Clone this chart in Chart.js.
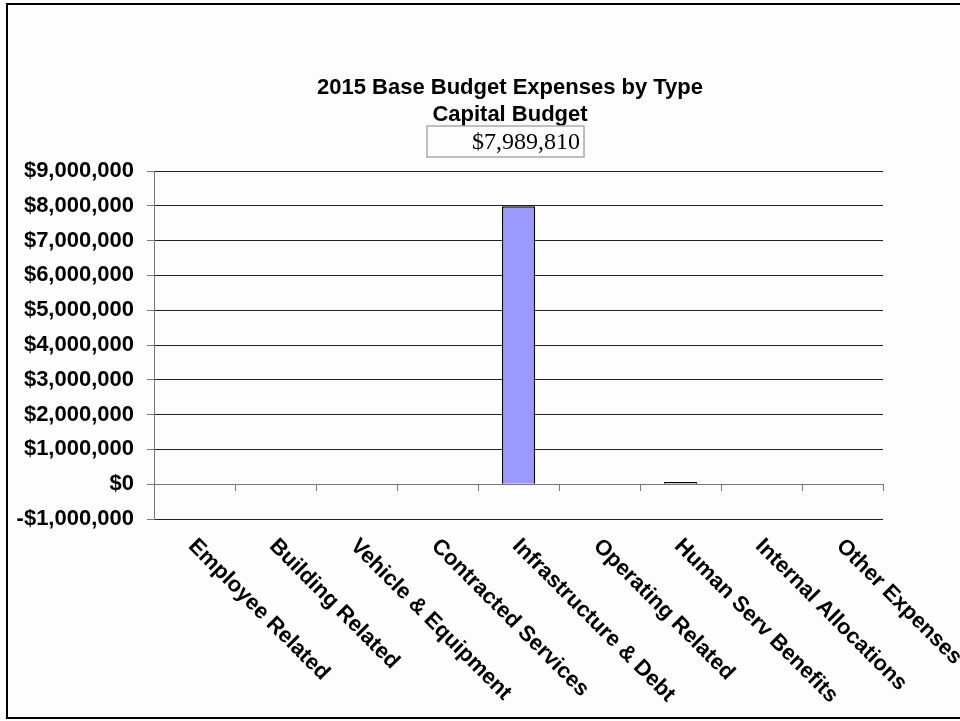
<!DOCTYPE html>
<html>
<head>
<meta charset="utf-8">
<title>2015 Base Budget Expenses by Type</title>
<script src="https://cdn.jsdelivr.net/npm/chart.js@4/dist/chart.umd.min.js"></script>
<style>
  html, body { margin: 0; padding: 0; background: #fff; }
  #wrap { position: relative; width: 960px; height: 721px; }
</style>
</head>
<body>
<div id="wrap"><canvas id="budgetChart"></canvas></div>
<script>
// Expense categories and 2015 capital budget amounts
const categories = [
  'Employee Related', 'Building Related', 'Vehicle & Equipment',
  'Contracted Services', 'Infrastructure & Debt', 'Operating Related',
  'Human Serv Benefits', 'Internal Allocations', 'Other Expenses'
];
const expenses = [0, 0, 0, 0, 7989810, 0, 60000, 0, 0];

const titleLines = ['2015 Base Budget Expenses by Type', 'Capital Budget'];

// value axis range
const yMin = -1000000;
const yMax = 9000000;
const yStep = 1000000;

// the boxed figure under the title is the largest line item
const headline = Math.max(...expenses);

function money(v) {
  const s = '$' + Math.abs(v).toLocaleString('en-US');
  return v < 0 ? '-' + s : s;
}

const boldFont = "bold 22px 'Liberation Sans', Arial, sans-serif";

// frame, header and slanted category labels
const decorations = {
  id: 'decorations',
  beforeDraw(chart) {
    const ctx = chart.ctx;
    ctx.save();
    ctx.fillStyle = '#fdfdfd';
    ctx.fillRect(0, 0, chart.width, chart.height);
    ctx.strokeStyle = '#000';
    ctx.lineWidth = 2;
    ctx.beginPath();
    ctx.moveTo(chart.width, 4);
    ctx.lineTo(7, 4);
    ctx.lineTo(7, 718);
    ctx.lineTo(chart.width, 718);
    ctx.stroke();
    ctx.restore();
  },
  afterDraw(chart) {
    const ctx = chart.ctx;
    const area = chart.chartArea;
    const cx = 510;
    ctx.save();

    ctx.fillStyle = '#000';
    ctx.textAlign = 'center';
    ctx.textBaseline = 'middle';
    ctx.font = boldFont;
    titleLines.forEach((line, i) => ctx.fillText(line, cx, 88 + i * 27));

    // headline box
    ctx.strokeStyle = '#aaa';
    ctx.lineWidth = 1.5;
    ctx.strokeRect(cx - 83, 126, 157, 31);
    ctx.font = "24px 'Liberation Serif', 'Times New Roman', serif";
    ctx.textAlign = 'right';
    ctx.fillText(money(headline), cx + 70, 143);

    // category labels, slanted down to the right
    const xScale = chart.scales.x;
    ctx.font = boldFont;
    ctx.textAlign = 'left';
    ctx.textBaseline = 'top';
    categories.forEach((label, i) => {
      const x = xScale.getPixelForValue(i);
      ctx.save();
      ctx.translate(x + 5, area.bottom + 16);
      ctx.rotate(Math.PI / 4);
      ctx.fillText(label, 0, 0);
      ctx.restore();
    });
    ctx.restore();
  }
};

const ctx = document.getElementById('budgetChart').getContext('2d');

new Chart(ctx, {
  type: 'bar',
  data: {
    labels: categories,
    datasets: [{
      data: expenses,
      backgroundColor: '#9999FF',
      borderColor: '#000',
      borderWidth: 1.5,
      barPercentage: 0.41,
      categoryPercentage: 1
    }]
  },
  options: {
    responsive: true,
    maintainAspectRatio: false,
    animation: false,
    layout: {
      padding: { top: 171, right: 77, bottom: 202, left: 0 }
    },
    plugins: {
      legend: { display: false },
      tooltip: { enabled: false }
    },
    scales: {
      x: {
        position: { y: 0 },
        offset: true,
        grid: {
          offset: true,
          drawOnChartArea: false,
          tickLength: 6,
          color: '#777'
        },
        border: { color: '#777' },
        ticks: { display: false }
      },
      y: {
        min: yMin,
        max: yMax,
        afterFit(scale) { scale.width = 154; },
        grid: {
          color: '#222',
          tickLength: 7,
          tickColor: '#777'
        },
        border: { color: '#777' },
        ticks: {
          stepSize: yStep,
          padding: 13,
          color: '#000',
          font: { family: "'Liberation Sans', Arial, sans-serif", size: 22, weight: 'bold' },
          callback: (v) => money(v)
        }
      }
    }
  },
  plugins: [decorations]
});
</script>
</body>
</html>
